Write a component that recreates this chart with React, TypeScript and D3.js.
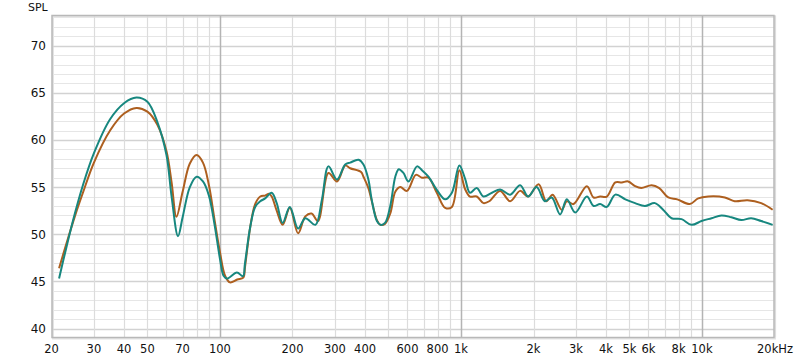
import { useEffect, useRef } from "react";
import * as d3 from "d3";

const width = 800;
const height = 360;

// teal trace
const tealFreq = [
  21.5, 23, 25, 27, 30, 35, 40, 45, 50, 55, 60, 63, 67, 70, 75, 80, 85, 90, 95, 100,
  103.5, 107, 117.6, 124.6, 127, 133.6, 140, 147, 154, 164, 172, 182, 195, 211, 226, 249,
  265, 282, 306, 331, 347, 376, 394, 413, 426, 448, 463, 484, 509, 534, 552, 577, 606, 657,
  689, 733, 794, 860, 917, 985, 1040, 1090, 1163, 1240, 1345, 1454, 1600, 1760, 1900, 2060,
  2230, 2380, 2580, 2750, 2980, 3330, 3550, 3780, 4030, 4370, 4810, 5280, 5800, 6380, 6900,
  7480, 8230, 9050, 9960, 10960, 12050, 13250, 14570, 16000, 17610, 19650,
];
const tealSpl = [
  45.3, 48.5, 52.2, 55.2, 58.6, 62.2, 63.9, 64.5, 64.05, 61.9, 58.4, 54.0, 49.8, 51.8, 55.0, 56.1, 55.6, 54.1, 51.0, 47.4,
  45.6, 45.3, 45.95, 45.55, 46.9, 50.8, 52.9, 53.5, 53.8, 54.4, 53.3, 51.2, 52.9, 50.6, 51.7, 51.0,
  53.7, 57.2, 55.8, 57.4, 57.6, 57.9, 57.4, 55.8, 53.7, 51.4, 51.0, 51.2, 53.0, 56.1, 56.9, 56.5, 55.6, 57.2,
  56.8, 56.1, 54.7, 53.7, 54.4, 57.3, 55.9, 54.4, 54.9, 54.0, 54.4, 54.75, 54.2, 55.2, 54.0, 55.0,
  53.5, 53.9, 52.1, 53.7, 52.3, 54.0, 53.0, 53.2, 52.9, 54.2, 53.7, 53.3, 53.0, 53.3, 52.6,
  51.7, 51.6, 51.0, 51.4, 51.7, 52.0, 51.8, 51.5, 51.7, 51.4, 51.0,
];

// brown trace
const brownFreq = [
  21.5, 23, 25, 27, 30, 35, 40, 45, 50, 55, 60, 63, 66, 70, 75, 80, 85, 90, 95, 100,
  105, 110, 118, 125, 127, 133.6, 140, 147, 154, 160, 164, 172, 182, 195, 211, 226, 240, 255,
  282, 306, 331, 347, 385, 394, 413, 448, 463, 484, 509, 534, 560, 597, 650, 689, 733, 794,
  860, 917, 985, 1040, 1090, 1163, 1240, 1310, 1454, 1600, 1760, 1900, 2100, 2260, 2400,
  2620, 2750, 2930, 3330, 3550, 3780, 4030, 4370, 4650, 4940, 5280, 5600, 6180, 6650, 7250,
  7900, 8900, 9650, 10620, 12450, 13680, 15450, 17610, 19650,
];
const brownSpl = [
  46.4, 48.9, 51.9, 54.4, 57.6, 61.0, 62.8, 63.4, 63.0, 61.6, 58.8, 55.5, 51.85, 54.5, 57.5, 58.4, 57.6, 55.2, 51.5, 48.1,
  45.6, 44.9, 45.2, 45.4, 46.5, 50.8, 53.2, 54.0, 54.1, 54.3, 54.0, 52.5, 51.0, 52.8, 50.1, 51.9, 52.2, 51.4,
  56.5, 55.6, 57.3, 57.0, 56.6, 56.1, 54.9, 51.5, 51.0, 51.1, 52.2, 54.5, 55.0, 54.6, 56.3, 56.0, 56.0, 54.4,
  52.8, 52.9, 56.8, 54.8, 54.0, 54.0, 53.3, 53.5, 54.6, 53.5, 54.6, 54.0, 55.3, 53.5, 54.2,
  52.6, 53.5, 53.2, 55.1, 53.9, 54.0, 54.0, 55.5, 55.5, 55.6, 55.1, 54.9, 55.2, 54.9, 53.9,
  53.7, 53.2, 53.8, 54.0, 53.9, 53.5, 53.6, 53.3, 52.6,
];

const xTickValues = [20, 30, 40, 50, 70, 100, 200, 300, 400, 600, 800, 1000, 2000, 3000, 4000, 5000, 6000, 8000, 10000, 20000];
const xTickLabels = ["20", "30", "40", "50", "70", "100", "200", "300", "400", "600", "800", "1k", "2k", "3k", "4k", "5k", "6k", "8k", "10k", "20kHz"];
const yTickValues = [40, 45, 50, 55, 60, 65, 70];

const App = () => {
  const ref = useRef<SVGSVGElement>(null);

  useEffect(() => {
    const svg = d3.select(ref.current);
    svg.selectAll("*").remove();

    const left = 52;
    const right = 774;
    const top = 15.5;
    const bottom = 337.5;

    const x = d3.scaleLog().domain([20, 20000]).range([51.5, 774.5]);
    const y = d3.scaleLinear().domain([39.05, 73.2]).range([bottom, top]);

    svg.append("rect").attr("width", width).attr("height", height).attr("fill", "white");

    // soft shadow around the plot box
    svg
      .append("rect")
      .attr("x", left + 1)
      .attr("y", top + 1)
      .attr("width", right - left)
      .attr("height", bottom - top)
      .attr("fill", "none")
      .attr("stroke", "#e4e4e4")
      .attr("stroke-width", 2);

    // horizontal grid: every 1 dB, heavier every 5
    const hLines = d3.range(40, 74);
    svg
      .selectAll("hgrid")
      .data(hLines)
      .enter()
      .append("line")
      .attr("x1", left)
      .attr("x2", right)
      .attr("y1", (d) => Math.round(y(d)) + 0.5)
      .attr("y2", (d) => Math.round(y(d)) + 0.5)
      .attr("stroke", (d) => (d % 5 === 0 ? "#d2d2d2" : "#e6e6e6"))
      .attr("stroke-width", (d) => (d % 5 === 0 ? 1.5 : 1));

    // vertical grid (log decades)
    const vLines: number[] = [];
    [10, 100, 1000, 10000].forEach((dec) => {
      for (let m = 1; m <= 9; m++) {
        const f = dec * m;
        if (f >= 20 && f <= 20000) vLines.push(f);
      }
    });
    svg
      .selectAll("vgrid")
      .data(vLines)
      .enter()
      .append("line")
      .attr("x1", (d) => Math.round(x(d)) + 0.5)
      .attr("x2", (d) => Math.round(x(d)) + 0.5)
      .attr("y1", top)
      .attr("y2", bottom)
      .attr("stroke", (d) => ([100, 1000, 10000].includes(d) ? "#b4b4b4" : "#dcdcdc"))
      .attr("stroke-width", (d) => ([100, 1000, 10000].includes(d) ? 1.5 : 1.2));

    // frame
    svg
      .append("rect")
      .attr("x", left)
      .attr("y", top)
      .attr("width", right - left)
      .attr("height", bottom - top)
      .attr("fill", "none")
      .attr("stroke", "#b8b8b8")
      .attr("stroke-width", 1.5);

    const line = d3
      .line<[number, number]>()
      .x((d) => x(d[0]))
      .y((d) => y(d[1]))
      .curve(d3.curveCatmullRom.alpha(0.5));

    const brownData = brownFreq.map((f, i) => [f, brownSpl[i]] as [number, number]);
    const tealData = tealFreq.map((f, i) => [f, tealSpl[i]] as [number, number]);

    svg
      .append("path")
      .attr("d", line(brownData))
      .attr("fill", "none")
      .attr("stroke", "#ad5f1f")
      .attr("stroke-width", 2);

    svg
      .append("path")
      .attr("d", line(tealData))
      .attr("fill", "none")
      .attr("stroke", "#17877f")
      .attr("stroke-width", 2);

    // labels
    const font = "'DejaVu Sans', sans-serif";
    svg
      .selectAll("xlabels")
      .data(xTickValues)
      .enter()
      .append("text")
      .attr("x", (d, i) => (i === xTickValues.length - 1 ? 775 : x(d)))
      .attr("y", 353)
      .attr("text-anchor", "middle")
      .style("font-family", font)
      .style("font-size", "11.5px")
      .attr("fill", "#111")
      .text((d, i) => xTickLabels[i]);

    svg
      .selectAll("ylabels")
      .data(yTickValues)
      .enter()
      .append("text")
      .attr("x", 46)
      .attr("y", (d) => y(d) + 4.5)
      .attr("text-anchor", "end")
      .style("font-family", font)
      .style("font-size", "12px")
      .attr("fill", "#111")
      .text((d) => d);

    svg
      .append("text")
      .attr("x", 28)
      .attr("y", 11)
      .style("font-family", font)
      .style("font-size", "11px")
      .attr("fill", "#111")
      .text("SPL");
  }, []);

  return (
    <svg
      ref={ref}
      width={width}
      height={height}
      style={{ position: "absolute", left: 0, top: 0 }}
    />
  );
};

export default App;
